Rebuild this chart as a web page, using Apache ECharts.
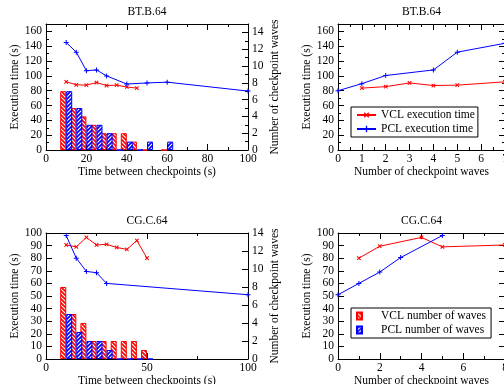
<!DOCTYPE html>
<html>
<head>
<meta charset="utf-8">
<style>
  html, body { margin: 0; padding: 0; background: #fff; }
  #chart { width: 504px; height: 384px; }
</style>
<script src="https://cdn.jsdelivr.net/npm/echarts@6.0.0/dist/echarts.min.js"></script>
</head>
<body>
<div id="chart"></div>
<script>
// BT.B.64 - execution time vs time between checkpoints
const btVclInterval = [10, 15, 20, 25, 30, 35, 40, 45];
const btVclTime = [92, 88, 87.5, 91, 87, 87.5, 85, 83.5];
const btPclInterval = [10, 15, 20, 25, 30, 40, 50, 60, 100];
const btPclTime = [145, 132, 107, 108, 100, 89, 90.5, 91.5, 79.5];
// BT.B.64 - checkpoint waves per interval
const btBarInterval = [10, 15, 20, 25, 30, 35, 40, 45, 50, 60];
const btVclWaves = [7, 5, 4, 3, 2, 2, 2, 1, 0, 0];
const btPclWaves = [7, 5, 3, 3, 2, 0, 1, 0, 1, 1];
// BT.B.64 - execution time vs number of waves
const btVclWaveCount = [1, 2, 3, 4, 5, 7];
const btVclWaveTime = [83.5, 85.5, 90.5, 87, 87.5, 92];
const btPclWaveCount = [0, 1, 2, 4, 5, 7];
const btPclWaveTime = [80, 89.5, 100.5, 108, 132, 144];

// CG.C.64
const cgVclInterval = [10, 15, 20, 25, 30, 35, 40, 45, 50];
const cgVclTime = [90.5, 89, 96.5, 90.5, 91, 88.5, 87, 94, 80];
const cgPclInterval = [10, 15, 20, 25, 30, 100];
const cgPclTime = [98, 80, 69.5, 68.5, 60, 51];
const cgBarInterval = [10, 15, 20, 25, 30, 35, 40, 45, 50];
const cgVclWaves = [8, 5, 4, 2, 2, 2, 2, 2, 1];
const cgPclWaves = [5, 3, 2, 2, 1, 0, 0, 0, 0];
const cgVclWaveCount = [1, 2, 4, 5, 8];
const cgVclWaveTime = [80, 89.5, 96.5, 89, 90.5];
const cgPclWaveCount = [0, 1, 2, 3, 5];
const cgPclWaveTime = [51, 60, 69, 80.5, 98];

const RED = '#ff0000';
const BLUE = '#0000ff';
const FONT = 'Liberation Serif';
const FS = 11.5;

const pairs = (xs, ys) => xs.map((x, i) => [x, ys[i]]);

// striped fill like the gnuplot patterns
function hatch(color, dir) {
  const c = document.createElement('canvas');
  c.width = c.height = 4;
  const g = c.getContext('2d');
  g.fillStyle = color;
  g.fillRect(0, 0, 4, 4);
  g.strokeStyle = '#fff';
  g.lineWidth = 1.2;
  g.beginPath();
  for (const o of [-4, 0, 4]) {
    if (dir > 0) { g.moveTo(o - 1, 5); g.lineTo(o + 5, -1); }
    else { g.moveTo(o - 1, -1); g.lineTo(o + 5, 5); }
  }
  g.stroke();
  return { image: c, repeat: 'repeat' };
}
const redHatch = hatch(RED, -1);
const blueHatch = hatch(BLUE, 1);

const PLUS = 'path://M4,0h2v4h4v2h-4v4h-2v-4h-4v-2h4z';

function axis(o) {
  return Object.assign({
    type: 'value',
    axisLine: { show: true, onZero: false, lineStyle: { color: '#000', width: 1 } },
    axisTick: { show: true, inside: true, length: 6, lineStyle: { color: '#000' } },
    minorTick: { show: false, length: 3, lineStyle: { color: '#000' } },
    splitLine: { show: false },
    axisLabel: { color: '#000', fontFamily: FONT, fontSize: FS, margin: 4 },
    nameLocation: 'middle',
    nameTextStyle: { color: '#000', fontFamily: FONT, fontSize: FS }
  }, o);
}
const minor = { show: true, splitNumber: 2, length: 3, lineStyle: { color: '#000' } };
const noLabel = { show: false };
const xLabel = { color: '#000', fontFamily: FONT, fontSize: FS, margin: 3 };

const grids = [
  { left: 46, top: 24, width: 202, height: 126, outerBoundsMode: 'none' },
  { left: 338, top: 24, width: 167, height: 126, outerBoundsMode: 'none' },
  { left: 46, top: 233, width: 202, height: 126, outerBoundsMode: 'none' },
  { left: 338, top: 233, width: 167, height: 126, outerBoundsMode: 'none' }
];

const xAxes = [
  axis({ gridIndex: 0, min: 0, max: 100, interval: 20, minorTick: minor, name: 'Time between checkpoints (s)', nameGap: 14, axisLabel: xLabel }),
  axis({ gridIndex: 0, position: 'top', min: 0, max: 100, interval: 20, minorTick: minor, axisLabel: noLabel, name: 'BT.B.64', nameGap: 6 }),
  axis({ gridIndex: 1, min: 0, max: 7, interval: 1, minorTick: minor, name: 'Number of checkpoint waves', nameGap: 14, axisLabel: xLabel }),
  axis({ gridIndex: 1, position: 'top', min: 0, max: 7, interval: 1, minorTick: minor, axisLabel: noLabel, name: 'BT.B.64', nameGap: 6 }),
  axis({ gridIndex: 2, min: 0, max: 100, interval: 50, minorTick: minor, name: 'Time between checkpoints (s)', nameGap: 14, axisLabel: xLabel }),
  axis({ gridIndex: 2, position: 'top', min: 0, max: 100, interval: 50, minorTick: minor, axisLabel: noLabel, name: 'CG.C.64', nameGap: 6 }),
  axis({ gridIndex: 3, min: 0, max: 8, interval: 2, minorTick: minor, name: 'Number of checkpoint waves', nameGap: 14, axisLabel: xLabel }),
  axis({ gridIndex: 3, position: 'top', min: 0, max: 8, interval: 2, minorTick: minor, axisLabel: noLabel, name: 'CG.C.64', nameGap: 6 })
];

const hideMax = { color: '#000', fontFamily: FONT, fontSize: FS, margin: 4, showMaxLabel: false };
const yAxes = [
  axis({ gridIndex: 0, position: 'left', min: 0, max: 170, interval: 20, minorTick: minor, axisLabel: hideMax, name: 'Execution time (s)', nameGap: 25 }),
  axis({ gridIndex: 0, position: 'right', min: 0, max: 15, interval: 2, minorTick: minor, axisLabel: hideMax, name: 'Number of checkpoint waves', nameGap: 21 }),
  axis({ gridIndex: 1, position: 'left', min: 0, max: 170, interval: 20, minorTick: minor, axisLabel: hideMax, name: 'Execution time (s)', nameGap: 25 }),
  axis({ gridIndex: 1, position: 'right', min: 0, max: 170, interval: 20, minorTick: minor, axisLabel: noLabel }),
  axis({ gridIndex: 2, position: 'left', min: 0, max: 100, interval: 10, name: 'Execution time (s)', nameGap: 25 }),
  axis({ gridIndex: 2, position: 'right', min: 0, max: 14, interval: 2, name: 'Number of checkpoint waves', nameGap: 21 }),
  axis({ gridIndex: 3, position: 'left', min: 0, max: 100, interval: 10, name: 'Execution time (s)', nameGap: 25 }),
  axis({ gridIndex: 3, position: 'right', min: 0, max: 100, interval: 10, axisLabel: noLabel })
];

function lineSeries(name, color, data, xi, yi, cross) {
  return {
    name: name, type: 'line', xAxisIndex: xi, yAxisIndex: yi, data: data,
    symbol: PLUS, symbolSize: 5, symbolRotate: cross ? 45 : 0,
    itemStyle: { color: color },
    lineStyle: { color: color, width: 1 },
    z: 3
  };
}
function barSeries(name, fill, color, data, xi, yi) {
  return {
    name: name, type: 'bar', xAxisIndex: xi, yAxisIndex: yi, data: data,
    barWidth: 6, barGap: '0%',
    itemStyle: { color: fill, borderColor: color, borderWidth: 1 },
    z: 2
  };
}

const series = [
  barSeries('VCL number of waves', redHatch, RED, pairs(btBarInterval, btVclWaves), 0, 1),
  barSeries('PCL number of waves', blueHatch, BLUE, pairs(btBarInterval, btPclWaves), 0, 1),
  lineSeries('VCL execution time', RED, pairs(btVclInterval, btVclTime), 0, 0, true),
  lineSeries('PCL execution time', BLUE, pairs(btPclInterval, btPclTime), 0, 0, false),
  lineSeries('VCL execution time', RED, pairs(btVclWaveCount, btVclWaveTime), 2, 2, true),
  lineSeries('PCL execution time', BLUE, pairs(btPclWaveCount, btPclWaveTime), 2, 2, false),
  barSeries('VCL number of waves', redHatch, RED, pairs(cgBarInterval, cgVclWaves), 4, 5),
  barSeries('PCL number of waves', blueHatch, BLUE, pairs(cgBarInterval, cgPclWaves), 4, 5),
  lineSeries('VCL execution time', RED, pairs(cgVclInterval, cgVclTime), 4, 4, true),
  lineSeries('PCL execution time', BLUE, pairs(cgPclInterval, cgPclTime), 4, 4, false),
  lineSeries('VCL execution time', RED, pairs(cgVclWaveCount, cgVclWaveTime), 6, 6, true),
  lineSeries('PCL execution time', BLUE, pairs(cgPclWaveCount, cgPclWaveTime), 6, 6, false)
];

const legendText = { color: '#000', fontFamily: FONT, fontSize: FS };
const legends = [
  {
    data: ['VCL execution time', 'PCL execution time'],
    left: 351, top: 107, orient: 'vertical', itemGap: 2,
    itemWidth: 19, itemHeight: 8,
    padding: [2, 3, 2, 5],
    borderColor: '#000', borderWidth: 1, backgroundColor: '#fff',
    selectedMode: false, textStyle: legendText
  },
  {
    data: [{ name: 'VCL number of waves', icon: 'rect' }, { name: 'PCL number of waves', icon: 'rect' }],
    left: 351, top: 308, orient: 'vertical', itemGap: 2,
    itemWidth: 5, itemHeight: 7,
    padding: [2, 5, 2, 5],
    borderColor: '#000', borderWidth: 1, backgroundColor: '#fff',
    selectedMode: false, textStyle: Object.assign({ padding: [0, 0, 0, 14] }, legendText)
  }
];

const chart = echarts.init(document.getElementById('chart'));
chart.setOption({
  animation: false,
  backgroundColor: '#fff',
  grid: grids,
  xAxis: xAxes,
  yAxis: yAxes,
  legend: legends,
  series: series
});
</script>
</body>
</html>
